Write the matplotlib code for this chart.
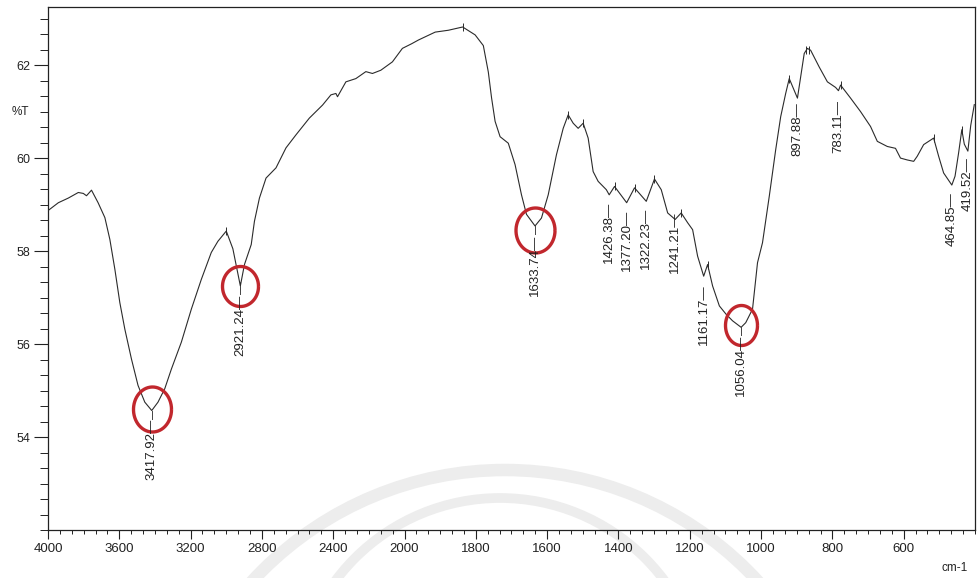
import numpy as np
import matplotlib
matplotlib.use("Agg")
import matplotlib.pyplot as plt
from matplotlib.path import Path
from matplotlib.patches import Arc
from matplotlib.transforms import IdentityTransform
from matplotlib.ticker import FixedLocator, NullFormatter

plt.rcParams['font.family'] = ['Liberation Sans', 'DejaVu Sans']

# espectro FTIR (numero de onda cm-1, %T)
wavenumber = [4000, 3942, 3886, 3830, 3802, 3784, 3756, 3719, 3681, 3653, 3625, 3597,
              3569, 3532, 3495, 3457, 3418, 3383, 3345, 3308, 3252, 3196, 3140, 3084,
              3047, 3000, 2963, 2921, 2898, 2860, 2842, 2814, 2777, 2721, 2665, 2609,
              2534, 2460, 2413, 2385, 2376, 2329, 2273, 2217, 2180, 2133, 2068, 2012,
              1980, 1961, 1914, 1877, 1837, 1802, 1779, 1765, 1756, 1746, 1732, 1709,
              1690, 1672, 1658, 1634, 1616, 1597, 1574, 1555, 1541, 1527, 1513, 1499,
              1485, 1471, 1457, 1434, 1426, 1411, 1377, 1355, 1322, 1299, 1280, 1262,
              1241, 1224, 1206, 1192, 1178, 1161, 1150, 1136, 1117, 1098, 1080, 1056,
              1043, 1024, 1010, 996, 977, 959, 945, 931, 921, 898, 879, 870,
              861, 837, 814, 791, 783, 777, 749, 721, 693, 674, 646, 623,
              609, 590, 572, 562, 544, 516, 502, 488, 465, 456, 446, 437,
              430, 420, 412, 402]
transmittance = [58.87, 59.04, 59.14, 59.26, 59.24, 59.19, 59.31, 59.04, 58.72, 58.25, 57.61, 56.89,
                 56.32, 55.68, 55.11, 54.75, 54.57, 54.75, 55.04, 55.46, 56.04, 56.75, 57.39, 57.97,
                 58.21, 58.43, 58.05, 57.25, 57.71, 58.14, 58.64, 59.14, 59.57, 59.79, 60.22, 60.50,
                 60.86, 61.14, 61.36, 61.39, 61.32, 61.64, 61.71, 61.86, 61.82, 61.89, 62.07, 62.36,
                 62.46, 62.54, 62.71, 62.75, 62.82, 62.65, 62.42, 61.85, 61.30, 60.79, 60.46, 60.32,
                 59.86, 59.21, 58.79, 58.54, 58.71, 59.21, 60.07, 60.64, 60.93, 60.75, 60.64, 60.75,
                 60.43, 59.71, 59.50, 59.32, 59.21, 59.39, 59.04, 59.36, 59.07, 59.55, 59.32, 58.82,
                 58.68, 58.82, 58.61, 58.46, 57.89, 57.46, 57.71, 57.25, 56.82, 56.64, 56.50, 56.36,
                 56.46, 56.75, 57.75, 58.18, 59.18, 60.18, 60.89, 61.39, 61.71, 61.29, 62.25, 62.36,
                 62.32, 61.96, 61.64, 61.52, 61.45, 61.57, 61.29, 61.00, 60.68, 60.36, 60.25, 60.21,
                 60.00, 59.96, 59.93, 60.04, 60.29, 60.43, 60.04, 59.68, 59.42, 59.61, 60.11, 60.61,
                 60.30, 60.15, 60.70, 61.15]

# etiquetas de picos: posicion, texto, %T del borde superior de la etiqueta
peak_wn = [3418, 2921, 1634, 1426, 1377, 1322, 1241, 1161, 1056, 898, 783, 465, 420]
peak_text = ["3417.92", "2921.24", "1633.74", "1426.38", "1377.20", "1322.23", "1241.21",
             "1161.17", "1056.04", "897.88", "783.11", "464.85", "419.52"]
peak_top = [54.39, 57.07, 58.36, 59.07, 58.89, 58.94, 58.85, 57.29, 56.19, 61.21, 61.24, 59.26, 60.03]

# minimos marcados con circulo rojo
circ_wn = [3418, 2921, 1634, 1056]
circ_T = [54.60, 57.25, 58.45, 56.40]
circ_w = [38, 36, 39, 32]
circ_h = [45, 40, 45, 40]

# marcas "+" en maximos
mark_wn = [3000, 2921, 1837, 1541, 1499, 1411, 1355, 1299, 1224, 1150, 921, 874, 866, 777, 516, 437]
mark_T = [58.43, 57.25, 62.82, 60.93, 60.75, 59.39, 59.36, 59.55, 58.82, 57.71, 61.71, 62.32, 62.32, 61.57, 60.43, 60.61]

x_major = [4000, 3600, 3200, 2800, 2400, 2000, 1800, 1600, 1400, 1200, 1000, 800, 600]
y_major = [54, 56, 58, 60, 62]


def fwd(x):
    x = np.asarray(x, dtype=float)
    return np.where(x > 2000, 2000 + (x - 2000) / 2, x)


def inv(u):
    u = np.asarray(u, dtype=float)
    return np.where(u > 2000, 2000 + (u - 2000) * 2, u)


fig = plt.figure(figsize=(9.77, 5.78), dpi=100)
ax = fig.add_axes([48 / 977, 1 - 530 / 578, 927 / 977, 523 / 578])
ax.patch.set_alpha(0)
ax.set_xscale('function', functions=(fwd, inv))
ax.set_xlim(4000, 400)
ax.set_ylim(52.0, 63.25)

# marca de agua (arcos grises tenues)
for cx, cy, r, lw in [(505, -235, 343, 9), (500, -125, 205, 7)]:
    fig.add_artist(Arc((cx, cy), 2 * r, 2 * r, theta1=0, theta2=180,
                       transform=IdentityTransform(), color='#ededed', lw=lw, zorder=0))

ax.plot(wavenumber, transmittance, color='#2b2b2b', lw=0.8, zorder=3)

ax.plot(mark_wn, mark_T, ls='none', marker='|', ms=6, mew=0.7, color='#2b2b2b', zorder=4)

t = np.linspace(0, 2 * np.pi, 60)
for w, T, cw, ch in zip(circ_wn, circ_T, circ_w, circ_h):
    ell = Path(np.column_stack([np.cos(t) * cw / ch, np.sin(t)]))
    ax.plot([w], [T], marker=ell, ms=ch * 0.72, mfc='none', mec='#c1272d', mew=2.4, zorder=5)

for w, txt, top in zip(peak_wn, peak_text, peak_top):
    ax.text(w, top, txt + "\u2014", rotation=90, ha='center', va='top', fontsize=9.5,
            color='#222222', zorder=6)

# lineas desde los minimos circulados hasta su etiqueta
for w, T, top in zip(peak_wn[:3] + [peak_wn[8]], [54.57, 57.25, 58.54, 56.36],
                     peak_top[:3] + [peak_top[8]]):
    ax.plot([w, w], [T, top], color='#444444', lw=0.7, zorder=4)

ax.xaxis.set_major_locator(FixedLocator(x_major))
ax.set_xticklabels([str(v) for v in x_major])
x_minor = [4000 - k * 400 / 6 for k in range(31)] + [2000 - k * 200 / 6 for k in range(49)]
ax.xaxis.set_minor_locator(FixedLocator(x_minor))
ax.xaxis.set_minor_formatter(NullFormatter())
ax.yaxis.set_major_locator(FixedLocator(y_major))
ax.set_yticklabels([str(v) for v in y_major])
ax.yaxis.set_minor_locator(FixedLocator([52 + k / 3 for k in range(34)]))

ax.tick_params(axis='x', which='major', length=6.5, width=0.8, labelsize=9.5, pad=3, colors='#222222')
ax.tick_params(axis='x', which='minor', length=3, width=0.7, colors='#222222')
ax.tick_params(axis='y', which='major', length=10, width=0.8, labelsize=9, pad=3, colors='#222222')
ax.tick_params(axis='y', which='minor', length=6, width=0.7, colors='#222222')
for s in ax.spines.values():
    s.set_color('#222222')
    s.set_linewidth(0.9)

fig.text(20 / 977, 1 - 112 / 578, "%T", fontsize=8.5, ha='center', va='center', color='#222222')
fig.text(955 / 977, 1 - 568 / 578, "cm-1", fontsize=8.5, ha='center', va='center', color='#222222')

fig.savefig("out.png", dpi=100)
